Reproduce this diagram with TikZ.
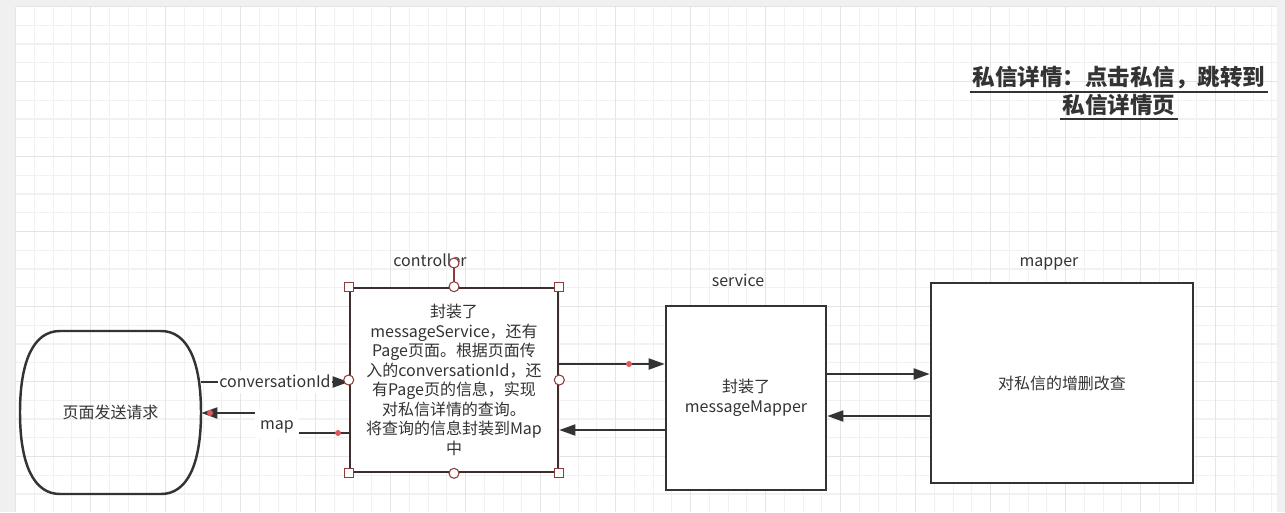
\documentclass[tikz,border=0pt]{standalone}
\usepackage{fontspec}
\setmainfont{Noto Sans CJK SC}
\usetikzlibrary{arrows.meta}

\definecolor{canvas}{HTML}{F0F0F0}
\definecolor{gminor}{HTML}{F1F1F1}
\definecolor{gmajor}{HTML}{E4E4E4}
\definecolor{ink}{HTML}{333333}
\definecolor{selbox}{HTML}{3E2D2D}
\definecolor{handle}{HTML}{8E3B3B}
\definecolor{reddot}{HTML}{E05A5A}

\tikzset{
  txt/.style={text=ink, font=\fontsize{9.1pt}{11.1pt}\selectfont},
  tag/.style={txt, text height=1.6ex, text depth=0.4ex},
  box/.style={txt, draw=ink, line width=1.5pt, fill=white, inner sep=0pt, align=center},
  arr/.style={draw=ink, line width=1.1pt, -{Triangle[length=3.2mm,width=2.2mm]}},
  lbl/.style={tag, fill=white, inner sep=1pt},
  hsq/.style={draw=handle, fill=white, line width=0.6pt, minimum size=0.18cm, inner sep=0pt},
  hcir/.style={circle, draw=handle, fill=white, line width=0.6pt, minimum size=0.2cm, inner sep=0pt},
  dot/.style={circle, fill=reddot, inner sep=0pt, minimum size=0.12cm}
}

\begin{document}
\begin{tikzpicture}[x=0.02cm, y=-0.02cm]
\useasboundingbox (0,0) rectangle (1285,512);

% canvas and grid
\fill[canvas] (0,0) rectangle (1285,512);
\fill[white] (16,6.5) rectangle (1277,512);
\foreach \i in {0,...,67}
  \draw[gminor, line width=0.6pt] ({15.7+18.75*\i},6.5) -- ({15.7+18.75*\i},512);
\foreach \j in {0,...,26}
  \draw[gminor, line width=0.6pt] (16,{6.5+18.75*\j}) -- (1277,{6.5+18.75*\j});
\foreach \i in {0,...,16}
  \draw[gmajor, line width=0.6pt] ({15.7+75*\i},6.5) -- ({15.7+75*\i},512);
\foreach \j in {0,...,6}
  \draw[gmajor, line width=0.6pt] (16,{6.5+75*\j}) -- (1277,{6.5+75*\j});

% title
\node[text=ink, inner sep=1.5pt, font=\fontsize{12.8pt}{15pt}\selectfont\bfseries] (title1) at (1119,78) {私信详情：点击私信，跳转到};
\node[text=ink, inner sep=1.5pt, font=\fontsize{12.8pt}{15pt}\selectfont\bfseries] (title2) at (1119,105) {私信详情页};
\draw[ink, line width=1.1pt] (title1.south west) -- (title1.south east);
\draw[ink, line width=1.1pt] (title2.south west) -- (title2.south east);

% page request
\node[txt, minimum width=3.62cm, minimum height=3.26cm] (req) at (110.5,412.5) {页面发送请求};
\draw[ink, line width=1.4pt] (60,331) -- (161,331)
  .. controls (187,331) and (201,360) .. (201,412.5)
  .. controls (201,465) and (187,494) .. (161,494)
  -- (60,494)
  .. controls (34,494) and (20,465) .. (20,412.5)
  .. controls (20,360) and (34,331) .. cycle;

% layers
\node[box, draw=selbox, minimum width=4.16cm, minimum height=3.68cm] (ctrl) at (454,380)
  {封装了\\messageService，还有\\Page页面。根据页面传\\入的conversationId，还\\有Page页的信息，实现\\对私信详情的查询。\\将查询的信息封装到Map\\中};
\node[box, minimum width=3.2cm, minimum height=3.68cm] (svc) at (746,398) {封装了\\messageMapper};
\node[box, minimum width=5.24cm, minimum height=4cm] (mapr) at (1062,383) {对私信的增删改查};

\node[tag] (ctrllbl) at (430,261) {controller};
\node[tag] (svclbl) at (738,281) {service};
\node[tag] (maprlbl) at (1049,261) {mapper};

% connectors
\draw[arr] (req.east |- 0,382) -- (ctrl.west |- 0,382);
\node[lbl] (cidlbl) at (275,382) {conversationId};
\draw[arr] (ctrl.west |- 0,433) -- (277,433) -- (277,413) -- (req.east |- 0,413);
\node[lbl, inner xsep=3pt, inner ysep=2.5pt] (maplbl) at (277,424) {map};
\draw[arr] (ctrl.east |- 0,364) -- (svc.west |- 0,364);
\draw[arr] (svc.west |- 0,430) -- (ctrl.east |- 0,430);
\draw[arr] (svc.east |- 0,374) -- (mapr.west |- 0,374);
\draw[arr] (mapr.west |- 0,416) -- (svc.east |- 0,416);

\node[dot] (d1) at (629,364) {};
\node[dot] (d2) at (338,433) {};
\node[dot] (d3) at (210,413) {};

% selection handles
\coordinate (rot) at (454,263);
\draw[handle, line width=0.8pt] (ctrl.north) -- (rot);
\node[hcir] (hrot) at (rot) {};
\foreach \a in {north west, north east, south west, south east}
  \node[hsq] at (ctrl.\a) {};
\foreach \a in {north, south, west, east}
  \node[hcir] at (ctrl.\a) {};
\end{tikzpicture}
\end{document}
